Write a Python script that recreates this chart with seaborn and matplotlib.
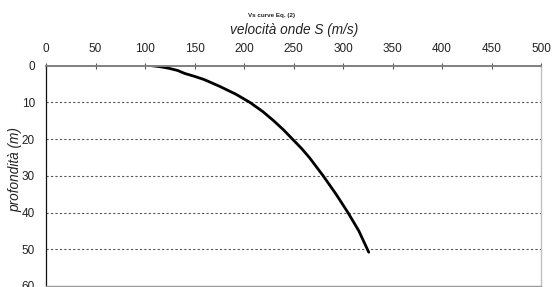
import matplotlib
matplotlib.use("Agg")
import matplotlib.pyplot as plt
import seaborn as sns
import pandas as pd

# data
velocity = [107, 116, 124, 133, 140, 150, 160, 176, 192, 206, 219, 230, 240, 249,
            258, 266, 273, 280, 293, 305, 316, 326]
depth = [0, 0.3, 0.7, 1.3, 2.1, 2.9, 3.8, 5.7, 7.8, 10, 12.5, 15, 17.5, 20,
         22.5, 25, 27.5, 30, 35, 40, 45, 50.8]
x_ticks = [0, 50, 100, 150, 200, 250, 300, 350, 400, 450, 500]
y_ticks = [0, 10, 20, 30, 40, 50, 60]
title = "Vs curve Eq. (2)"
xlabel = "velocità onde S (m/s)"
ylabel = "profondità (m)"

sns.set_theme(style="white")
plt.rcParams['font.family'] = ['Liberation Sans', 'DejaVu Sans']

df = pd.DataFrame({"vs": velocity, "z": depth})

W, H = 552, 287
fig = plt.figure(figsize=(W / 100, H / 100), dpi=100)
left, right, top, bottom = 46, 541, 65.7, 286
ax = fig.add_axes([left / W, 1 - bottom / H, (right - left) / W, (bottom - top) / H])

sns.lineplot(data=df, x="vs", y="z", ax=ax, color="black", linewidth=2.0,
             sort=False, estimator=None)

ax.set_xlim(0, 500)
ax.set_ylim(60, 0)
ax.set_xticks(x_ticks)
ax.set_yticks(y_ticks)
ax.xaxis.tick_top()
ax.xaxis.set_label_position("top")
ax.tick_params(axis="x", direction="inout", length=5, width=0.8, color="#555555",
               labelsize=8.5, pad=5, labelcolor="#222222")
ax.tick_params(axis="y", direction="inout", length=6, width=0.8, color="#222222",
               labelsize=8.5, pad=5, labelcolor="#222222")
ax.set_xlabel("")
ax.set_ylabel("")

for yv in y_ticks[1:-1]:
    ax.axhline(yv, color="#555555", linewidth=0.8, linestyle=(0, (2, 2)), zorder=0)

ax.spines["top"].set_color("#808080")
ax.spines["top"].set_linewidth(1.4)
ax.spines["left"].set_color("#111111")
ax.spines["left"].set_linewidth(0.9)
ax.spines["right"].set_color("#c0c0c0")
ax.spines["right"].set_linewidth(1.0)
ax.spines["bottom"].set_color("#999999")
ax.spines["bottom"].set_linewidth(1.0)
for s in ax.spines.values():
    s.set_visible(True)

fig.text(272 / W, 1 - 15 / H, title, fontsize=4.5, fontweight="bold",
         ha="center", va="center", color="#222222")
fig.text(294 / W, 1 - 30 / H, xlabel, fontsize=9.8, fontstyle="italic",
         ha="center", va="center", color="#222222")
fig.text(15 / W, 1 - 170 / H, ylabel, fontsize=9.8, fontstyle="italic",
         ha="center", va="center", rotation=90, color="#222222")

fig.savefig("out.png", dpi=100)
